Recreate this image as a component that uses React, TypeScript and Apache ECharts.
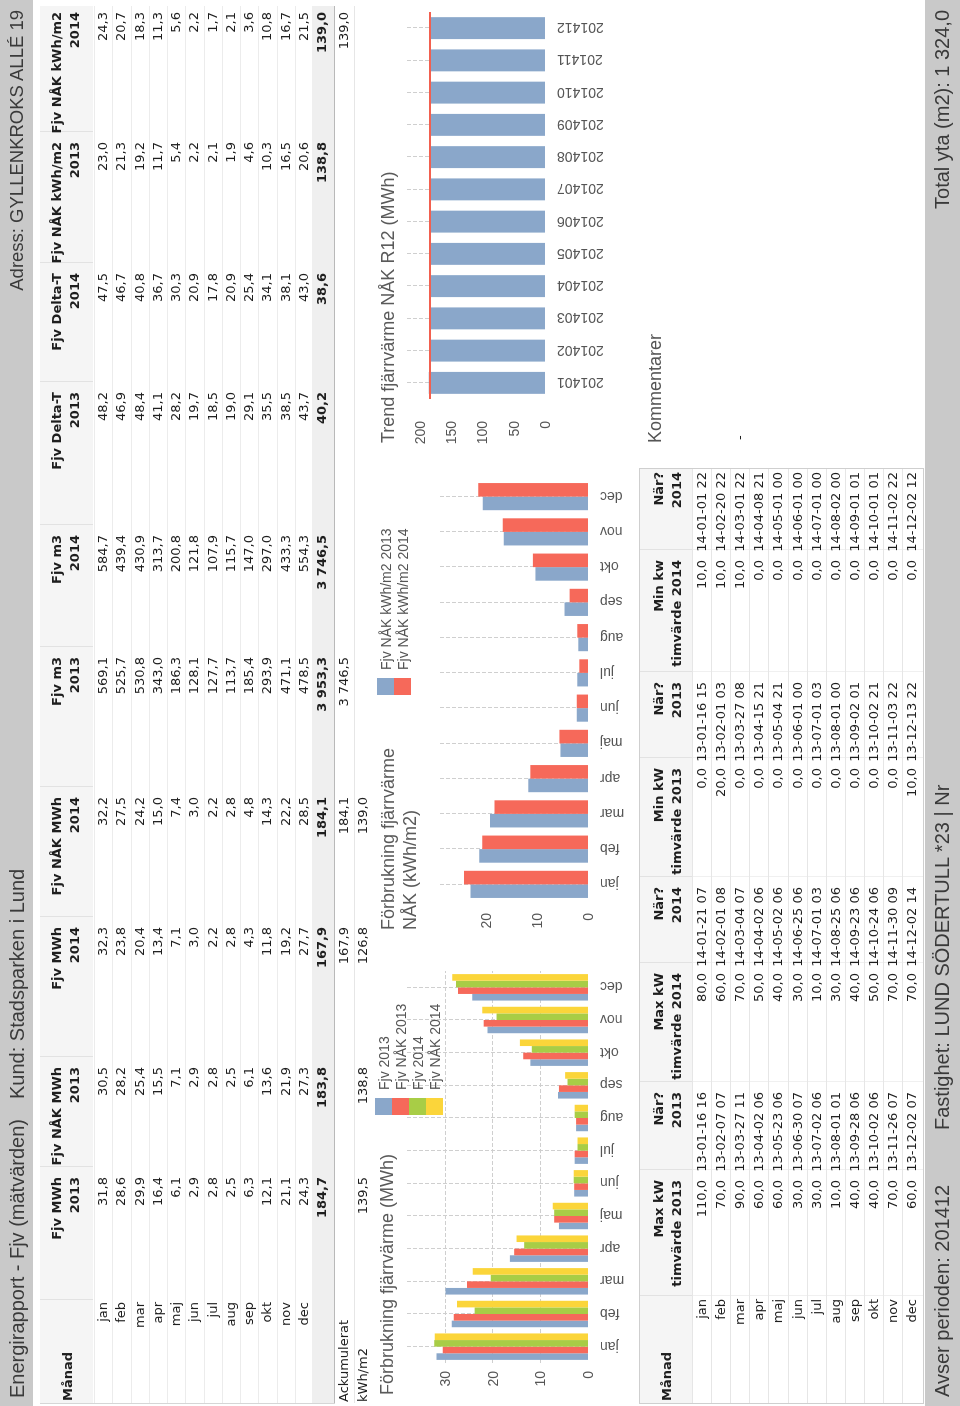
import React, { useEffect, useRef } from 'react';
import * as echarts from 'echarts';

// ---------- data ----------
const months = ['jan', 'feb', 'mar', 'apr', 'maj', 'jun', 'jul', 'aug', 'sep', 'okt', 'nov', 'dec'];

const fjvMWh2013 = [31.8, 28.6, 29.9, 16.4, 6.1, 2.9, 2.8, 2.5, 6.3, 12.1, 21.1, 24.3];
const fjvNakMWh2013 = [30.5, 28.2, 25.4, 15.5, 7.1, 2.9, 2.8, 2.5, 6.1, 13.6, 21.9, 27.3];
const fjvMWh2014 = [32.3, 23.8, 20.4, 13.4, 7.1, 3.0, 2.2, 2.8, 4.3, 11.8, 19.2, 27.7];
const fjvNakMWh2014 = [32.2, 27.5, 24.2, 15.0, 7.4, 3.0, 2.2, 2.8, 4.8, 14.3, 22.2, 28.5];
const fjvM3_2013 = [569.1, 525.7, 530.8, 343.0, 186.3, 128.1, 127.7, 113.7, 185.4, 293.9, 471.1, 478.5];
const fjvM3_2014 = [584.7, 439.4, 430.9, 313.7, 200.8, 121.8, 107.9, 115.7, 147.0, 297.0, 433.3, 554.3];
const deltaT2013 = [48.2, 46.9, 48.4, 41.1, 28.2, 19.7, 18.5, 19.0, 29.1, 35.5, 38.5, 43.7];
const deltaT2014 = [47.5, 46.7, 40.8, 36.7, 30.3, 20.9, 17.8, 20.9, 25.4, 34.1, 38.1, 43.0];
const nakKwhM2_2013 = [23.0, 21.3, 19.2, 11.7, 5.4, 2.2, 2.1, 1.9, 4.6, 10.3, 16.5, 20.6];
const nakKwhM2_2014 = [24.3, 20.7, 18.3, 11.3, 5.6, 2.2, 1.7, 2.1, 3.6, 10.8, 16.7, 21.5];

const topHead1 = ['Fjv MWh', 'Fjv NÅK MWh', 'Fjv MWh', 'Fjv NÅK MWh', 'Fjv m3', 'Fjv m3', 'Fjv Delta-T', 'Fjv Delta-T', 'Fjv NÅK kWh/m2', 'Fjv NÅK kWh/m2'];
const topHead2 = ['2013', '2013', '2014', '2014', '2013', '2014', '2013', '2014', '2013', '2014'];
const topTotals = [184.7, 183.8, 167.9, 184.1, 3953.3, 3746.5, 40.2, 38.6, 138.8, 139.0];
const topAccumulated = [null, null, 167.9, 184.1, 3746.5, null, null, null, null, 139.0];
const topKwhM2 = [139.5, 138.8, 126.8, 139.0, null, null, null, null, null, null];

const maxKw2013 = [110, 70, 90, 60, 60, 30, 30, 10, 40, 40, 70, 60];
const maxKw2013When = ['13-01-16 16', '13-02-07 07', '13-03-27 11', '13-04-02 06', '13-05-23 06', '13-06-30 07', '13-07-02 06', '13-08-01 01', '13-09-28 06', '13-10-02 06', '13-11-26 07', '13-12-02 07'];
const maxKw2014 = [80, 60, 70, 50, 40, 30, 10, 30, 40, 50, 70, 70];
const maxKw2014When = ['14-01-21 07', '14-02-01 08', '14-03-04 07', '14-04-02 06', '14-05-02 06', '14-06-25 06', '14-07-01 03', '14-08-25 06', '14-09-23 06', '14-10-24 06', '14-11-30 09', '14-12-02 14'];
const minKw2013 = [0, 20, 0, 0, 0, 0, 0, 0, 0, 0, 0, 10];
const minKw2013When = ['13-01-16 15', '13-02-01 03', '13-03-27 08', '13-04-15 21', '13-05-04 21', '13-06-01 00', '13-07-01 03', '13-08-01 00', '13-09-02 01', '13-10-02 21', '13-11-03 22', '13-12-13 22'];
const minKw2014 = [10, 10, 10, 0, 0, 0, 0, 0, 0, 0, 0, 0];
const minKw2014When = ['14-01-01 22', '14-02-20 22', '14-03-01 22', '14-04-08 21', '14-05-01 00', '14-06-01 00', '14-07-01 00', '14-08-02 00', '14-09-01 01', '14-10-01 01', '14-11-02 22', '14-12-02 12'];
const botHead1 = ['Max kW', 'När?', 'Max kW', 'När?', 'Min kW', 'När?', 'Min kw', 'När?'];
const botHead2 = ['timvärde 2013', '2013', 'timvärde 2014', '2014', 'timvärde 2013', '2013', 'timvärde 2014', '2014'];

const trendMonths = ['201401', '201402', '201403', '201404', '201405', '201406', '201407', '201408', '201409', '201410', '201411', '201412'];
const trendR12 = [185.5, 184.8, 183.6, 183.1, 183.4, 183.5, 182.9, 183.2, 181.9, 182.6, 182.9, 184.1];
const trendRef = 183.8;

const legend1 = ['Fjv 2013', 'Fjv NÅK 2013', 'Fjv 2014', 'Fjv NÅK 2014'];
const legend2 = ['Fjv NÅK kWh/m2 2013', 'Fjv NÅK kWh/m2 2014'];

// ---------- layout / style ----------
const FONT_UI = '"Liberation Sans", Arial, sans-serif';
const FONT_TBL = '"DejaVu Sans", Verdana, sans-serif';
const BLUE = '#8aa7ca';
const RED = '#f6695a';
const GREEN = '#a8cd46';
const YELLOW = '#fbd53a';
const BAR_GRAY = '#c9c9c9';

const topColRight = [229, 339, 479, 609, 749, 871, 1014, 1133, 1264, 1394];
const topColLeftBound = [106, 239, 349, 489, 619, 759, 881, 1024, 1143, 1274];
const botColRight = [226, 314, 433, 519, 638, 724, 846, 934];
const botColLeftBound = [110, 236, 324, 443, 529, 648, 734, 856];

function fmt(v: number | null): string {
  if (v === null || v === undefined) return '';
  const [i, d] = v.toFixed(1).split('.');
  return i.replace(/\B(?=(\d{3})+(?!\d))/g, ' ') + ',' + d;
}

type TP = { x: number; y: number; text: string; align?: 'left' | 'right'; bold?: boolean; size?: number; color?: string; font?: string };
function Txt({ x, y, text, align = 'right', bold = false, size = 13, color = '#1e1e1e', font = FONT_TBL }: TP) {
  const w = 420;
  return (
    <div
      style={{
        position: 'absolute',
        left: align === 'right' ? x - w : x,
        top: y - 12,
        width: w,
        height: 24,
        lineHeight: '24px',
        textAlign: align,
        fontFamily: font,
        fontSize: size,
        fontWeight: bold ? 700 : 400,
        color,
        whiteSpace: 'nowrap',
      }}
    >
      {text}
    </div>
  );
}

function Rect({ x, y, w, h, bg }: { x: number; y: number; w: number; h: number; bg: string }) {
  return <div style={{ position: 'absolute', left: x, top: y, width: w, height: h, background: bg }} />;
}

function TopTable() {
  const els: React.ReactNode[] = [];
  const rowY = (i: number) => 103 + 18.25 * i;
  els.push(<Rect key="hbg" x={3} y={40} w={1397} h={53} bg="#f5f5f5" />);
  topColLeftBound.forEach((b, i) => els.push(<Rect key={'hs' + i} x={b} y={40} w={1} h={53} bg="#e2e2e2" />));
  for (let i = 0; i <= 12; i++) els.push(<Rect key={'rl' + i} x={3} y={Math.round(94 + 18.25 * i)} w={1397} h={1} bg="#ececec" />);
  els.push(<Rect key="tbg" x={3} y={312} w={1397} h={22} bg="#efefef" />);
  els.push(<Rect key="tl" x={3} y={334} w={1397} h={1} bg="#b9b9b9" />);
  els.push(<Rect key="al" x={3} y={354} w={1397} h={1} bg="#e6e6e6" />);
  els.push(<Rect key="lb" x={2} y={40} w={1} h={295} bg="#d6d6d6" />);
  els.push(<Txt key="mh" x={5} y={68} text="Månad" align="left" bold />);
  months.forEach((m, i) => els.push(<Txt key={'m' + i} x={104} y={rowY(i)} text={m} />));
  const cols = [fjvMWh2013, fjvNakMWh2013, fjvMWh2014, fjvNakMWh2014, fjvM3_2013, fjvM3_2014, deltaT2013, deltaT2014, nakKwhM2_2013, nakKwhM2_2014];
  cols.forEach((vals, c) => {
    const r = topColRight[c];
    els.push(<Txt key={'h1' + c} x={r} y={57} text={topHead1[c]} bold />);
    els.push(<Txt key={'h2' + c} x={r} y={75} text={topHead2[c]} bold />);
    vals.forEach((v, i) => els.push(<Txt key={'v' + c + '-' + i} x={r} y={rowY(i)} text={fmt(v)} />));
    els.push(<Txt key={'t' + c} x={r} y={322} text={fmt(topTotals[c])} bold />);
    if (topAccumulated[c] !== null) els.push(<Txt key={'a' + c} x={r} y={344} text={fmt(topAccumulated[c])} />);
    if (topKwhM2[c] !== null) els.push(<Txt key={'k' + c} x={r} y={363} text={fmt(topKwhM2[c])} />);
  });
  els.push(<Txt key="acc" x={4} y={344} text="Ackumulerat" align="left" />);
  els.push(<Txt key="kwh" x={4} y={363} text="kWh/m2" align="left" />);
  return <>{els}</>;
}

function BottomTable() {
  const els: React.ReactNode[] = [];
  const rowY = (i: number) => 702 + 19.1 * i;
  els.push(<Rect key="bbg" x={3} y={640} w={934} h={283} bg="#ffffff" />);
  els.push(<Rect key="hbg" x={3} y={640} w={934} h={52} bg="#f5f5f5" />);
  botColLeftBound.forEach((b, i) => {
    els.push(<Rect key={'hs' + i} x={b} y={640} w={1} h={52} bg="#e2e2e2" />);
    els.push(<Rect key={'bs' + i} x={b} y={692} w={1} h={231} bg="#f0f0f0" />);
  });
  for (let i = 0; i <= 11; i++) els.push(<Rect key={'rl' + i} x={3} y={Math.round(692 + 19.1 * i)} w={934} h={1} bg="#e6e6e6" />);
  els.push(<Rect key="b1" x={2} y={639} w={936} h={1} bg="#cfcfcf" />);
  els.push(<Rect key="b2" x={2} y={923} w={936} h={1} bg="#cfcfcf" />);
  els.push(<Rect key="b3" x={2} y={639} w={1} h={285} bg="#cfcfcf" />);
  els.push(<Rect key="b4" x={937} y={639} w={1} h={285} bg="#cfcfcf" />);
  els.push(<Txt key="mh" x={5} y={667} text="Månad" align="left" bold />);
  months.forEach((m, i) => els.push(<Txt key={'m' + i} x={107} y={rowY(i)} text={m} />));
  const cols: string[][] = [
    maxKw2013.map(fmt), maxKw2013When, maxKw2014.map(fmt), maxKw2014When,
    minKw2013.map(fmt), minKw2013When, minKw2014.map(fmt), minKw2014When,
  ];
  cols.forEach((vals, c) => {
    const r = botColRight[c];
    els.push(<Txt key={'h1' + c} x={r} y={659} text={botHead1[c]} bold />);
    els.push(<Txt key={'h2' + c} x={r} y={677} text={botHead2[c]} bold />);
    vals.forEach((v, i) => els.push(<Txt key={'v' + c + '-' + i} x={r} y={rowY(i)} text={v} />));
  });
  return <>{els}</>;
}

const axisLabelStyle = { fontSize: 14, color: '#555', fontFamily: FONT_UI };
const dashed = { type: 'dashed' as const, color: '#cfcfcf', width: 1 };

function buildOption() {
  const titleStyle = { fontSize: 18, fontWeight: 'normal' as const, color: '#5a5a5a', fontFamily: FONT_UI, lineHeight: 22 };
  const catAxis = (grid: number, data: string[]) => ({
    type: 'category' as const,
    gridIndex: grid,
    data,
    axisLine: { show: false },
    axisTick: { show: false },
    axisLabel: { ...axisLabelStyle, rotate: 90, margin: 12 },
    splitLine: { show: true, alignWithLabel: true, lineStyle: dashed },
  });
  const valAxis = (grid: number, max: number, interval: number, margin: number, split: boolean) => ({
    type: 'value' as const,
    gridIndex: grid,
    min: 0,
    max,
    interval,
    axisLine: { show: false },
    axisTick: { show: false },
    axisLabel: { ...axisLabelStyle, margin, showMaxLabel: false },
    splitLine: { show: split, showMinLine: false, showMaxLine: false, lineStyle: dashed },
  });
  const bar = (name: string, data: number[], color: string, xi: number, gap: string) => ({
    type: 'bar' as const,
    name,
    data,
    xAxisIndex: xi,
    yAxisIndex: xi,
    barGap: '0%',
    barCategoryGap: gap,
    itemStyle: { color },
    z: 2,
  });
  return {
    animation: false,
    textStyle: { fontFamily: FONT_UI },
    title: [
      { text: 'Förbrukning fjärrvärme (MWh)', left: 11, top: 6, padding: 0, textStyle: titleStyle },
      { text: 'Förbrukning fjärrvärme\nNÅK (kWh/m2)', left: 476, top: 7, padding: 0, textStyle: titleStyle },
      { text: 'Trend fjärrvärme NÅK R12 (MWh)', left: 963, top: 7, padding: 0, textStyle: titleStyle },
    ],
    legend: [
      {
        data: legend1, orient: 'vertical', left: 291, top: 5, padding: 0, itemWidth: 17, itemHeight: 17, itemGap: 0,
        icon: 'rect', textStyle: { fontSize: 14, color: '#555', fontFamily: FONT_UI, padding: [0, 0, 0, 3] },
      },
      {
        data: legend2, orient: 'vertical', left: 711, top: 7, padding: 0, itemWidth: 17, itemHeight: 17, itemGap: 0,
        icon: 'rect', textStyle: { fontSize: 14, color: '#555', fontFamily: FONT_UI, padding: [0, 0, 0, 3] },
      },
    ],
    grid: [
      { left: 43, top: 37, width: 392, height: 181 },
      { left: 504, top: 70, width: 423, height: 148 },
      { left: 1007, top: 37, width: 387, height: 138 },
    ],
    xAxis: [catAxis(0, months), catAxis(1, months), catAxis(2, trendMonths)],
    yAxis: [valAxis(0, 38, 10, 8, true), valAxis(1, 29, 10, 11, false), valAxis(2, 220, 50, 22, false)],
    series: [
      bar(legend1[0], fjvMWh2013, BLUE, 0, '19%'),
      bar(legend1[1], fjvNakMWh2013, RED, 0, '19%'),
      bar(legend1[2], fjvMWh2014, GREEN, 0, '19%'),
      bar(legend1[3], fjvNakMWh2014, YELLOW, 0, '19%'),
      bar(legend2[0], nakKwhM2_2013, BLUE, 1, '23%'),
      bar(legend2[1], nakKwhM2_2014, RED, 1, '23%'),
      {
        ...bar('Trend NÅK R12', trendR12, BLUE, 2, '32%'),
        markLine: {
          silent: true,
          symbol: 'none',
          label: { show: false },
          lineStyle: { color: '#f2604f', width: 2, type: 'solid' },
          data: [{ yAxis: trendRef }],
        },
      },
    ],
  };
}

function Charts() {
  const ref = useRef<HTMLDivElement>(null);
  useEffect(() => {
    if (!ref.current) return;
    const chart = echarts.init(ref.current, null, { renderer: 'svg', width: 1406, height: 262 });
    chart.setOption(buildOption() as any);
    return () => chart.dispose();
  }, []);
  return <div ref={ref} style={{ position: 'absolute', left: 0, top: 370, width: 1406, height: 262 }} />;
}

export default function App() {
  useEffect(() => {
    document.body.style.margin = '0';
    document.body.style.overflow = 'hidden';
  }, []);
  const uiText = { font: FONT_UI, size: 20, color: '#3a3a3a' };
  return (
    <div
      style={{
        position: 'fixed',
        left: 0,
        top: 0,
        width: 1406,
        height: 960,
        background: '#ffffff',
        transformOrigin: '0 0',
        transform: 'translate(0px, 1406px) rotate(-90deg)',
        overflow: 'hidden',
      }}
    >
      <Rect x={0} y={0} w={1406} h={33} bg={BAR_GRAY} />
      <Txt x={8} y={17} text="Energirapport - Fjv (mätvärden)" align="left" {...uiText} />
      <Txt x={307} y={17} text="Kund: Stadsparken i Lund" align="left" {...uiText} />
      <Txt x={1396} y={17} text="Adress: GYLLENKROKS ALLÉ 19" align="right" font={FONT_UI} size={18.5} color="#3a3a3a" />

      <TopTable />
      <Charts />
      <BottomTable />

      <Txt x={963} y={655} text="Kommentarer" align="left" font={FONT_UI} size={18} color="#555" />
      <Txt x={966} y={740} text="-" align="left" size={13} />

      <Rect x={0} y={925} w={1406} h={35} bg={BAR_GRAY} />
      <Txt x={9} y={942} text="Avser perioden: 201412" align="left" {...uiText} />
      <Txt x={276} y={942} text="Fastighet: LUND SÖDERTULL *23 | Nr" align="left" {...uiText} />
      <Txt x={1396} y={942} text="Total yta (m2): 1 324,0" align="right" {...uiText} />
    </div>
  );
}
